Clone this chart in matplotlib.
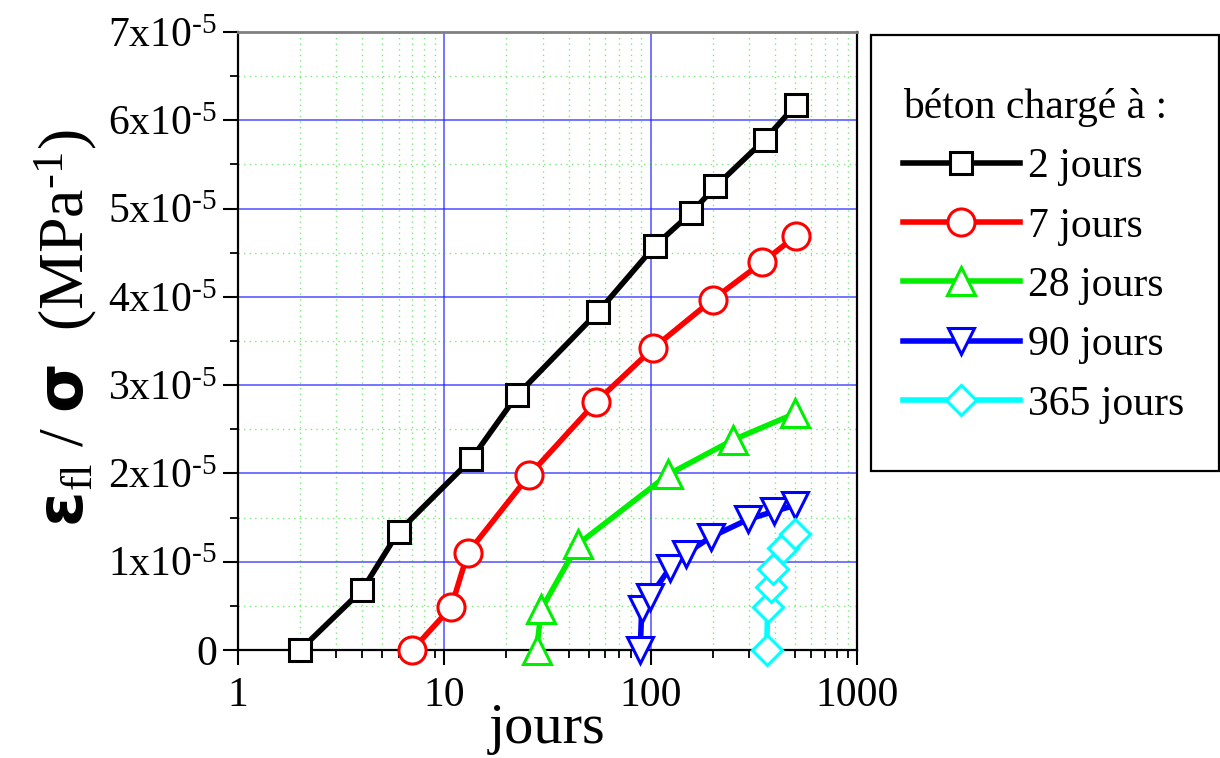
import numpy as np
import matplotlib
matplotlib.use("Agg")
import matplotlib.pyplot as plt
from matplotlib.ticker import LogLocator, MultipleLocator, FuncFormatter, FixedLocator
from matplotlib.patches import Rectangle

plt.rcParams['font.family'] = ['Liberation Serif', 'DejaVu Sans']
plt.rcParams['mathtext.fontset'] = 'custom'
plt.rcParams['mathtext.rm'] = 'Liberation Serif'
plt.rcParams['mathtext.it'] = 'Liberation Serif:italic'
plt.rcParams['mathtext.sf'] = 'DejaVu Sans:bold'

# data (x in days, y in 1e-5 MPa^-1)
x_2j = [2, 4, 6, 13.5, 22.5, 55.6, 105, 157, 206, 357, 504]
y_2j = [0, 0.68, 1.34, 2.16, 2.886, 3.83, 4.58, 4.95, 5.25, 5.78, 6.17]

x_7j = [7, 10.8, 13, 25.8, 54.4, 103, 200, 347, 506]
y_7j = [0, 0.486, 1.10, 1.98, 2.81, 3.42, 3.97, 4.39, 4.69]

x_28j = [28, 29.5, 44.5, 122, 251, 502]
y_28j = [0, 0.46, 1.2, 1.99, 2.38, 2.68]

x_90j = [89, 90.5, 99, 124, 148, 196, 297, 396, 502]
y_90j = [0, 0.47, 0.6, 0.93, 1.09, 1.28, 1.48, 1.57, 1.64]

x_365j = [365, 369, 381, 393, 436, 502]
y_365j = [0, 0.49, 0.71, 0.92, 1.15, 1.31]

labels = ['2 jours', '7 jours', '28 jours', '90 jours', '365 jours']
colors = ['black', '#ff0000', '#00ee00', '#0000ff', '#00ffff']
markers = ['s', 'o', '^', 'v', 'D']
msizes = [16.5, 19.5, 20, 19, 15]

W, H = 1220, 758
fig = plt.figure(figsize=(W / 100, H / 100), dpi=100)
ax = fig.add_axes([238 / W, 1 - 650 / H, (857 - 238) / W, (650 - 32) / H])

series = [(x_2j, y_2j), (x_7j, y_7j), (x_28j, y_28j), (x_90j, y_90j), (x_365j, y_365j)]
handles = []
for (xs, ys), lab, c, m, ms in zip(series, labels, colors, markers, msizes):
    h, = ax.plot(xs, np.array(ys) * 1e-5, color=c, lw=4, marker=m, ms=ms,
                 mfc='white', mec=c, mew=2.2, label=lab, zorder=3, clip_on=False)
    handles.append(h)

ax.set_xscale('log')
ax.set_xlim(1, 1000)
ax.set_ylim(0, 7e-5)

ax.xaxis.set_major_locator(FixedLocator([1, 10, 100, 1000]))
ax.xaxis.set_major_formatter(FuncFormatter(lambda v, p: f'{v:g}'))
ax.xaxis.set_minor_locator(LogLocator(base=10, subs=np.arange(2, 10)))
ax.xaxis.set_minor_formatter(FuncFormatter(lambda v, p: ''))

ax.yaxis.set_major_locator(MultipleLocator(1e-5))
ax.yaxis.set_minor_locator(MultipleLocator(0.5e-5))


def yfmt(v, p):
    n = int(round(v / 1e-5))
    if n == 0:
        return '0'
    return f'{n}x10$^{{\\text{{-5}}}}$'


ax.yaxis.set_major_formatter(FuncFormatter(yfmt))

ax.tick_params(which='major', direction='out', length=11, width=1.5, labelsize=30, pad=4)
ax.tick_params(which='minor', direction='out', length=6, width=1.3)
ax.tick_params(axis='x', which='major', pad=8)

ax.grid(which='major', color='#2222ff', lw=1.1, alpha=0.8)
ax.grid(which='minor', color='#22dd22', lw=1.0, ls=(0, (1, 3)), alpha=0.6)
ax.set_axisbelow(True)

for s in ['left', 'bottom', 'right']:
    ax.spines[s].set_linewidth(1.6)
    ax.spines[s].set_color('black')
ax.spines['top'].set_linewidth(2)
ax.spines['top'].set_color('#808080')

ax.set_xlabel('jours', fontsize=42)
ax.xaxis.set_label_coords(0.5, -0.085)
ax.set_ylabel(r'$\mathsf{\varepsilon}_{\mathrm{fl}}$ / $\mathsf{\sigma}$  (MPa$^{\text{-1}}$)',
              fontsize=46)
ax.yaxis.set_label_coords(-0.225, 0.52)

# legend box
fig.patches.append(Rectangle((871 / W, 1 - 471 / H), (1219 - 871) / W, (471 - 35) / H,
                             transform=fig.transFigure, fill=False, lw=1.6, ec='black'))
leg = ax.legend(handles=handles, loc='upper left', bbox_to_anchor=(903 / W, 1 - 88 / H),
                bbox_transform=fig.transFigure, frameon=False, title='béton chargé à :',
                title_fontsize=30, fontsize=30, alignment='left', handlelength=2.8,
                handletextpad=0.2, labelspacing=0.5, borderpad=0, borderaxespad=0)

fig.savefig('out.png', dpi=100)
